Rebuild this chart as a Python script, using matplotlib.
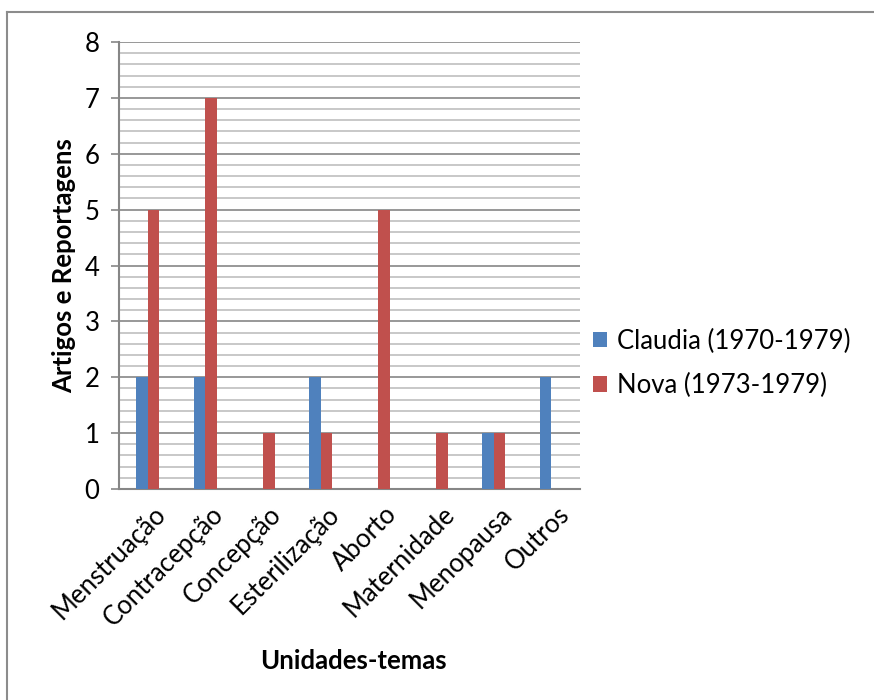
import numpy as np
import matplotlib.pyplot as plt
from matplotlib.lines import Line2D

temas = ['Menstruação', 'Contracepção', 'Concepção', 'Esterilização',
         'Aborto', 'Maternidade', 'Menopausa', 'Outros']
claudia = [2, 2, 0, 2, 0, 0, 1, 2]
nova = [5, 7, 1, 1, 5, 1, 1, 0]

plt.rcParams['font.family'] = ['Lato', 'DejaVu Sans']
fs = 18.5

fig = plt.figure(figsize=(8.74, 7), dpi=100)
ax = fig.add_axes([0.136, 0.3014, 0.528, 0.6386])

x = np.arange(len(temas))
w = 0.2
ax.bar(x - w / 2, claudia, w, color='#4F81BD', label='Claudia (1970-1979)', zorder=3)
ax.bar(x + w / 2, nova, w, color='#C0504D', label='Nova (1973-1979)', zorder=3)

ax.set_xlim(-0.5, len(temas) - 0.5)
ax.set_ylim(0, 8)
ax.set_yticks(range(0, 9))
ax.set_yticks(np.arange(0, 8.01, 0.2), minor=True)
ax.grid(axis='y', which='minor', color='#BFBFBF', lw=1.2, zorder=0)
ax.grid(axis='y', which='major', color='#868686', lw=1.2, zorder=1)
ax.tick_params(axis='y', which='minor', length=0)
ax.tick_params(axis='y', which='major', length=6, color='#868686', width=1.2,
               labelsize=fs, pad=8)
ax.tick_params(axis='x', length=0, labelsize=fs, pad=9)
ax.set_xticks(x + 0.1)
ax.set_xticklabels(temas, rotation=45, ha='right', rotation_mode='anchor')

for s in ['top', 'right']:
    ax.spines[s].set_visible(False)
for s in ['left', 'bottom']:
    ax.spines[s].set_color('#868686')
    ax.spines[s].set_linewidth(1.5)

ax.set_ylabel('Artigos e Reportagens', fontsize=fs, fontweight='bold', labelpad=6)
fig.text(0.404, 0.056, 'Unidades-temas', fontsize=fs, fontweight='bold',
         ha='center', va='center')

fig.legend(loc='center left', bbox_to_anchor=(0.678, 0.481), frameon=False,
           fontsize=fs, handlelength=0.55, handleheight=0.55, handletextpad=0.4,
           labelspacing=0.75, borderaxespad=0, borderpad=0)

# outer frame lines (left and top)
fig.add_artist(Line2D([0.008, 0.008], [0, 0.983], color='#8C8C8C', lw=1.5))
fig.add_artist(Line2D([0.008, 1], [0.983, 0.983], color='#8C8C8C', lw=1.5))

fig.savefig('out.png', dpi=100)
